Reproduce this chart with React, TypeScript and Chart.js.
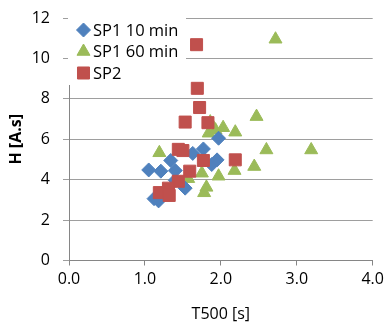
import React, { useEffect, useRef } from "react";
import { Chart, registerables } from "chart.js";
import { drawPoint } from "chart.js/helpers";

Chart.register(...registerables);

const seriesNames = ["SP1 10 min", "SP1 60 min", "SP2"];

const sp1_10_x = [1.05, 1.12, 1.18, 1.21, 1.34, 1.40, 1.40, 1.53, 1.63, 1.77, 1.88, 1.95, 1.97];
const sp1_10_y = [4.48, 3.06, 2.95, 4.42, 4.95, 4.45, 3.97, 3.58, 5.30, 5.52, 4.75, 4.98, 6.05];

const sp1_60_x = [1.19, 1.57, 1.75, 1.78, 1.81, 1.84, 1.86, 1.93, 2.03, 2.19, 1.97, 2.18, 2.44, 2.47, 2.60, 2.72, 3.19];
const sp1_60_y = [5.33, 4.05, 4.32, 3.35, 3.62, 6.30, 6.85, 6.45, 6.57, 6.35, 4.17, 4.45, 4.65, 7.12, 5.47, 10.95, 5.47];

const sp2_x = [1.68, 1.69, 1.72, 1.53, 1.83, 1.44, 1.50, 1.59, 1.77, 2.19, 1.44, 1.31, 1.19, 1.32];
const sp2_y = [10.68, 8.52, 7.57, 6.85, 6.82, 5.50, 5.44, 4.42, 4.95, 4.98, 3.92, 3.58, 3.36, 3.22];

const xTicks = [0, 1, 2, 3, 4];
const yTicks = [0, 2, 4, 6, 8, 10, 12];

const toPts = (xs: number[], ys: number[]) => xs.map((x, i) => ({ x, y: ys[i] }));

const BLUE = "#4F81BD";
const GREEN = "#9BBB59";
const RED = "#C0504D";
const FONT = "'Open Sans', 'Noto Sans', sans-serif";

const legendPlugin = {
  id: "insideLegend",
  beforeDatasetsDraw(chart: any) {
    const { ctx, chartArea } = chart;
    ctx.save();
    ctx.fillStyle = "#ffffff";
    ctx.fillRect(chartArea.left - 1, chartArea.top - 1, 186 - chartArea.left + 1, 85 - chartArea.top + 1);
    ctx.restore();
  },
  afterDatasetsDraw(chart: any) {
    const { ctx, chartArea } = chart;
    const ds = chart.data.datasets;
    const mx = chartArea.left + 14.5;
    const tx = chartArea.left + 24;
    const ys = [chartArea.top + 12, chartArea.top + 33.5, chartArea.top + 55];
    ctx.save();
    ds.forEach((d: any, i: number) => {
      ctx.fillStyle = d.backgroundColor;
      ctx.strokeStyle = d.borderColor;
      ctx.lineWidth = 1;
      drawPoint(ctx, { pointStyle: d.pointStyle, radius: d.pointRadius, rotation: 0, borderWidth: 1 } as any, mx, ys[i]);
      ctx.fillStyle = "#000";
      ctx.font = `16.5px ${FONT}`;
      ctx.textBaseline = "middle";
      ctx.textAlign = "left";
      ctx.fillText(d.label, tx, ys[i] + 1);
    });
    ctx.restore();
  },
};

export default function App() {
  const ref = useRef<HTMLCanvasElement | null>(null);
  useEffect(() => {
    if (!ref.current) return;
    const chart = new Chart(ref.current, {
      type: "scatter",
      data: {
        datasets: [
          {
            label: seriesNames[0],
            data: toPts(sp1_10_x, sp1_10_y),
            pointStyle: "rectRot",
            pointRadius: 7,
            backgroundColor: BLUE,
            borderColor: BLUE,
            borderWidth: 1,
            order: 1,
          },
          {
            label: seriesNames[1],
            data: toPts(sp1_60_x, sp1_60_y),
            pointStyle: "triangle",
            pointRadius: 7.5,
            backgroundColor: GREEN,
            borderColor: GREEN,
            borderWidth: 1,
            order: 2,
          },
          {
            label: seriesNames[2],
            data: toPts(sp2_x, sp2_y),
            pointStyle: "rect",
            pointRadius: 8.5,
            backgroundColor: RED,
            borderColor: RED,
            borderWidth: 1,
            order: 0,
          },
        ] as any,
      },
      options: {
        animation: false,
        responsive: true,
        maintainAspectRatio: false,
        layout: { padding: { top: 18, right: 12.3, left: 0, bottom: 0 } },
        plugins: { legend: { display: false }, tooltip: { enabled: false } },
        scales: {
          x: {
            type: "linear",
            min: 0,
            max: 4,
            afterBuildTicks: (s: any) => {
              s.ticks = xTicks.map((v) => ({ value: v }));
            },
            afterFit: (s: any) => {
              s.height = 66.5;
              s.paddingLeft = 0;
              s.paddingRight = 0;
            },
            ticks: {
              color: "#000",
              font: { family: FONT, size: 16 },
              padding: 4,
              maxRotation: 0,
              callback: (v: any) => Number(v).toFixed(1),
            },
            grid: { drawOnChartArea: false, drawTicks: true, tickLength: 5, color: "#868686" },
            border: { color: "#868686", width: 1 },
            title: {
              display: true,
              text: "T500 [s]",
              color: "#000",
              font: { family: FONT, size: 16 },
              padding: { top: 0, bottom: 3 },
            },
          },
          y: {
            type: "linear",
            min: 0,
            max: 12,
            afterBuildTicks: (s: any) => {
              s.ticks = yTicks.map((v) => ({ value: v }));
            },
            afterFit: (s: any) => {
              s.width = 69;
              s.paddingTop = 0;
              s.paddingBottom = 0;
            },
            ticks: {
              color: "#000",
              font: { family: FONT, size: 16 },
              padding: 13,
            },
            grid: { color: "#9e9e9e", tickLength: 6, lineWidth: 1 },
            border: { color: "#868686", width: 1 },
            title: {
              display: true,
              text: "H [A.s]",
              color: "#000",
              font: { family: FONT, size: 16, weight: "bold" },
              padding: { top: 7, bottom: 0 },
            },
          },
        },
      } as any,
      plugins: [legendPlugin],
    });
    return () => chart.destroy();
  }, []);
  return (
    <div style={{ position: "fixed", left: 0, top: 0, width: 385, height: 327, background: "#fff" }}>
      <canvas ref={ref} />
    </div>
  );
}
